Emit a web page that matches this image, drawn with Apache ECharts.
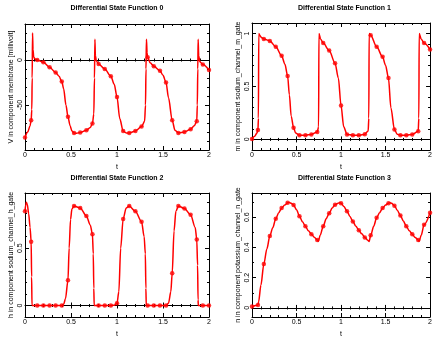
<!DOCTYPE html>
<html><head><meta charset="utf-8">
<script src="https://cdn.jsdelivr.net/npm/echarts@6/dist/echarts.min.js"></script>
<style>html,body{margin:0;padding:0;background:#fff}#c{width:435px;height:339px}</style>
</head><body><div id="c"></div>
<script>
// ---- texts ----
const titles = ['Differential State Function 0','Differential State Function 1','Differential State Function 2','Differential State Function 3'];
const yNames = ['V in component membrane [millivolt]','m in component sodium_channel_m_gate','h in component sodium_channel_h_gate','n in component potassium_channel_n_gate'];
const xName = 't';

// ---- axis ranges / ticks ----
const xRange = [0, 2];
const xMajor = [0, 0.5, 1, 1.5, 2];
const xMinor = [0,0.1,0.2,0.3,0.4,0.5,0.6,0.7,0.8,0.9,1,1.1,1.2,1.3,1.4,1.5,1.6,1.7,1.8,1.9,2];
const xLabels = [0, 0.5, 1, 1.5, 2];
const yRanges = [[-100, 40], [-0.1, 1.1], [-0.1, 0.98], [-0.06, 0.76]];
const yMajor = [[-100, -50, 0], [0, 0.5, 1], [0, 0.5], [0, 0.2, 0.4, 0.6]];
const yMinor = [
  [-90,-80,-70,-60,-50,-40,-30,-20,-10,0,10,20,30],
  [0,0.1,0.2,0.3,0.4,0.5,0.6,0.7,0.8,0.9,1],
  [0,0.1,0.2,0.3,0.4,0.5,0.6,0.7,0.8,0.9],
  [0,0.1,0.2,0.3,0.4,0.5,0.6,0.7]
];
const yLabels = [[-50, 0], [0, 0.5, 1], [0, 0.5], [0, 0.2, 0.4, 0.6]];

// ---- marker sample times ----
const tMarks = [0,0.067,0.133,0.2,0.267,0.333,0.4,0.467,0.533,0.6,0.667,0.733,0.8,0.867,0.933,1,1.067,1.133,1.2,1.267,1.333,1.4,1.467,1.533,1.6,1.667,1.733,1.8,1.867,1.933,2];

// ---- marker values ----
const vMarks = [-86,-67,0,-2.5,-8,-14,-24,-63,-81,-80.5,-78,-70.6,-4.4,-10,-18,-41,-79,-81,-79,-74,3,-7,-12,-25,-67,-81,-80,-77,-68,-5,-11];
const mMarks = [0.005,0.09,0.95,0.93,0.875,0.79,0.6,0.11,0.04,0.04,0.047,0.07,0.91,0.84,0.72,0.32,0.047,0.04,0.04,0.05,0.985,0.875,0.78,0.58,0.094,0.04,0.04,0.047,0.078,0.91,0.85];
const hMarks = [0.82,0.556,0,0,0,0,0,0.22,0.867,0.85,0.78,0.62,0,0,0,0.02,0.754,0.867,0.82,0.73,0,0,0,0,0.28,0.867,0.845,0.79,0.576,0,0];
const nMarks = [0.009,0.02,0.29,0.475,0.59,0.66,0.695,0.68,0.607,0.54,0.488,0.449,0.54,0.626,0.683,0.693,0.64,0.572,0.514,0.466,0.48,0.596,0.66,0.693,0.676,0.611,0.54,0.488,0.449,0.55,0.63];

// ---- line traces [t, value] ----
const vLine = [[0,-86],[0.03,-80],[0.055,-73],[0.067,-67],[0.074,-55],[0.078,-20],[0.082,30],[0.087,12],[0.095,3],[0.11,1],[0.133,0],[0.2,-2.5],[0.267,-8],[0.333,-14],[0.37,-18],[0.4,-24],[0.42,-32],[0.445,-50],[0.467,-63],[0.49,-73],[0.51,-79],[0.533,-81],[0.56,-81.5],[0.6,-80.5],[0.667,-78],[0.71,-75],[0.733,-70.6],[0.748,-60],[0.755,-20],[0.76,23],[0.765,5],[0.775,-1],[0.8,-4.4],[0.867,-10],[0.933,-18],[0.97,-27],[1,-41],[1.03,-65],[1.067,-79],[1.1,-81],[1.133,-81],[1.2,-79],[1.267,-74],[1.3,-68],[1.31,-50],[1.315,-10],[1.32,23],[1.327,8],[1.333,3],[1.36,-3],[1.4,-7],[1.467,-12],[1.5,-17],[1.533,-25],[1.56,-42],[1.6,-67],[1.63,-78],[1.667,-81],[1.733,-80],[1.8,-77],[1.84,-73],[1.867,-68],[1.873,-50],[1.878,-10],[1.882,23],[1.888,5],[1.9,-2],[1.933,-5],[2,-11]];
const mLine = [[0,0.005],[0.03,0.03],[0.055,0.06],[0.067,0.09],[0.072,0.2],[0.076,1.0],[0.09,0.98],[0.11,0.96],[0.133,0.95],[0.2,0.93],[0.267,0.875],[0.333,0.79],[0.37,0.71],[0.4,0.6],[0.42,0.42],[0.44,0.22],[0.467,0.11],[0.49,0.06],[0.533,0.04],[0.6,0.04],[0.667,0.047],[0.733,0.07],[0.748,0.12],[0.752,1.0],[0.77,0.95],[0.8,0.91],[0.867,0.84],[0.933,0.72],[0.97,0.58],[1,0.32],[1.03,0.12],[1.067,0.047],[1.133,0.04],[1.2,0.04],[1.267,0.05],[1.305,0.08],[1.312,0.2],[1.316,1.0],[1.333,0.985],[1.4,0.875],[1.467,0.78],[1.5,0.7],[1.533,0.58],[1.56,0.3],[1.6,0.094],[1.63,0.05],[1.667,0.04],[1.733,0.04],[1.8,0.047],[1.867,0.078],[1.874,0.2],[1.878,1.0],[1.9,0.95],[1.933,0.91],[2,0.85]];
const hLine = [[0,0.82],[0.008,0.88],[0.015,0.9],[0.025,0.88],[0.04,0.8],[0.055,0.68],[0.067,0.556],[0.072,0.25],[0.076,0],[0.133,0],[0.2,0],[0.267,0],[0.333,0],[0.4,0],[0.42,0.01],[0.44,0.06],[0.467,0.22],[0.48,0.5],[0.495,0.75],[0.51,0.84],[0.533,0.867],[0.6,0.85],[0.667,0.78],[0.71,0.7],[0.733,0.62],[0.742,0.45],[0.748,0.15],[0.752,0],[0.8,0],[0.867,0],[0.933,0],[0.97,0.003],[1,0.02],[1.02,0.12],[1.04,0.5],[1.067,0.754],[1.1,0.85],[1.133,0.867],[1.2,0.82],[1.267,0.73],[1.295,0.6],[1.308,0.45],[1.314,0.15],[1.318,0],[1.333,0],[1.4,0],[1.467,0],[1.533,0],[1.56,0.02],[1.585,0.12],[1.6,0.28],[1.62,0.65],[1.64,0.82],[1.667,0.867],[1.733,0.845],[1.8,0.79],[1.85,0.68],[1.867,0.576],[1.876,0.35],[1.881,0.05],[1.884,0],[1.933,0],[2,0]];
const nLine = [[0,0.009],[0.067,0.02],[0.074,0.04],[0.1,0.15],[0.133,0.29],[0.167,0.39],[0.2,0.475],[0.233,0.53],[0.267,0.59],[0.3,0.63],[0.333,0.66],[0.367,0.68],[0.4,0.695],[0.42,0.698],[0.44,0.692],[0.467,0.68],[0.5,0.65],[0.533,0.607],[0.567,0.57],[0.6,0.54],[0.633,0.51],[0.667,0.488],[0.7,0.468],[0.733,0.449],[0.745,0.44],[0.765,0.48],[0.8,0.54],[0.833,0.59],[0.867,0.626],[0.9,0.66],[0.933,0.683],[0.967,0.693],[0.985,0.697],[1,0.693],[1.033,0.67],[1.067,0.64],[1.1,0.605],[1.133,0.572],[1.167,0.54],[1.2,0.514],[1.233,0.49],[1.267,0.466],[1.3,0.448],[1.316,0.44],[1.333,0.48],[1.367,0.54],[1.4,0.596],[1.433,0.63],[1.467,0.66],[1.5,0.68],[1.533,0.693],[1.55,0.696],[1.567,0.692],[1.6,0.676],[1.633,0.645],[1.667,0.611],[1.7,0.575],[1.733,0.54],[1.767,0.51],[1.8,0.488],[1.833,0.465],[1.867,0.449],[1.877,0.44],[1.9,0.48],[1.933,0.55],[2,0.63]];

const lines = [vLine, mLine, hLine, nLine];
const marks = [vMarks, mMarks, hMarks, nMarks];

// ---- layout ----
const grids = [
  {left: 25, top: 24, width: 184, height: 126},
  {left: 252, top: 23, width: 185, height: 127},
  {left: 25, top: 193, width: 184, height: 127},
  {left: 252, top: 193, width: 185, height: 127}
];
const titleTops = [5, 5, 175, 175];
const FONT = 'Liberation Sans';
const BLACK = '#000';
const RED = '#ff0000';

const xAxes = [], yAxes = [], series = [], titleArr = [];
const fmt = v => String(Math.round(v * 1000) / 1000);

grids.forEach((g, i) => {
  const xb = i * 8, yb = i * 4;
  const xBase = {type: 'value', gridIndex: i, min: xRange[0], max: xRange[1], splitLine: {show: false}, axisLabel: {show: false}, axisPointer: {show: false}};
  const tick = (vals, len, inside) => ({show: true, customValues: vals, length: len, inside: inside, lineStyle: {color: BLACK, width: 1}});
  const line = show => ({show: show, onZero: false, lineStyle: {color: BLACK, width: 1}});
  // bottom border major (with labels)
  xAxes.push(Object.assign({}, xBase, {position: 'bottom', axisLine: line(true), axisTick: tick(xMajor, 4, true),
    axisLabel: {show: true, customValues: xLabels, formatter: fmt, margin: 2, fontSize: 7, fontFamily: FONT, color: BLACK},
    name: xName, nameLocation: 'middle', nameGap: 14, nameTextStyle: {fontSize: 7, fontFamily: FONT, color: BLACK}}));
  xAxes.push(Object.assign({}, xBase, {position: 'bottom', axisLine: line(false), axisTick: tick(xMinor, 2, true)}));
  // top border
  xAxes.push(Object.assign({}, xBase, {position: 'top', axisLine: line(true), axisTick: tick(xMajor, 4, true)}));
  xAxes.push(Object.assign({}, xBase, {position: 'top', axisLine: line(false), axisTick: tick(xMinor, 2, true)}));
  // zero axis, ticks crossing
  const zl = show => ({show: show, onZero: true, onZeroAxisIndex: yb, lineStyle: {color: BLACK, width: 1}});
  xAxes.push(Object.assign({}, xBase, {position: 'bottom', axisLine: zl(true), axisTick: tick(xMajor, 3, true)}));
  xAxes.push(Object.assign({}, xBase, {position: 'bottom', axisLine: zl(false), axisTick: tick(xMinor, 1.5, true)}));
  xAxes.push(Object.assign({}, xBase, {position: 'bottom', axisLine: zl(false), axisTick: tick(xMajor, 3, false)}));
  xAxes.push(Object.assign({}, xBase, {position: 'bottom', axisLine: zl(false), axisTick: tick(xMinor, 1.5, false)}));

  const yBase = {type: 'value', gridIndex: i, min: yRanges[i][0], max: yRanges[i][1], splitLine: {show: false}, axisLabel: {show: false}, axisPointer: {show: false}};
  yAxes.push(Object.assign({}, yBase, {position: 'left', axisLine: line(true), axisTick: tick(yMajor[i], 4, true),
    axisLabel: {show: true, customValues: yLabels[i], formatter: fmt, rotate: 90, margin: 1.5, fontSize: 7, fontFamily: FONT, color: BLACK},
    name: yNames[i], nameLocation: 'middle', nameGap: 10.5, nameRotate: 90, nameTextStyle: {fontSize: 7, fontFamily: FONT, color: BLACK}}));
  yAxes.push(Object.assign({}, yBase, {position: 'left', axisLine: line(false), axisTick: tick(yMinor[i], 2, true)}));
  yAxes.push(Object.assign({}, yBase, {position: 'right', axisLine: line(true), axisTick: tick(yMajor[i], 4, true)}));
  yAxes.push(Object.assign({}, yBase, {position: 'right', axisLine: line(false), axisTick: tick(yMinor[i], 2, true)}));

  series.push({type: 'line', xAxisIndex: xb, yAxisIndex: yb, data: lines[i], showSymbol: false, symbol: 'none',
    smooth: 0.3, smoothMonotone: 'x', lineStyle: {color: RED, width: 1.5}, clip: true, z: 3});
  series.push({type: 'scatter', xAxisIndex: xb, yAxisIndex: yb, data: tMarks.map((t, k) => [t, marks[i][k]]),
    symbol: 'circle', symbolSize: 4.5, itemStyle: {color: RED}, z: 4});

  titleArr.push({text: titles[i], left: g.left + g.width / 2, top: titleTops[i], textAlign: 'center', padding: 0,
    textStyle: {fontSize: 7, fontWeight: 'bold', fontFamily: FONT, color: BLACK}});
});

const chart = echarts.init(document.getElementById('c'), null, {renderer: 'canvas'});
chart.setOption({
  animation: false,
  backgroundColor: '#fff',
  title: titleArr,
  grid: grids,
  xAxis: xAxes,
  yAxis: yAxes,
  series: series
});
</script>
</body></html>
